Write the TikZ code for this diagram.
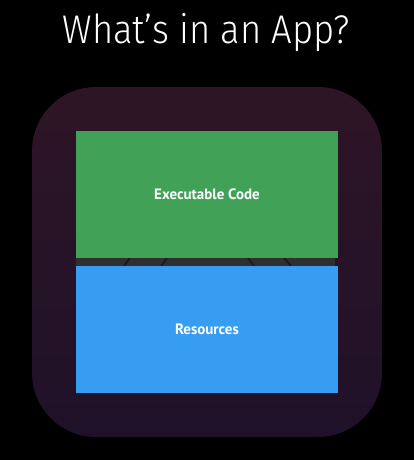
\documentclass[tikz,border=0pt]{standalone}
\usepackage{fontspec}
\setmainfont{PT Sans}
\newfontfamily\titlefont{Fira Sans Light}
\definecolor{icontop}{RGB}{46,21,38}
\definecolor{iconbot}{RGB}{31,17,41}
\definecolor{codegreen}{RGB}{65,162,87}
\definecolor{resblue}{RGB}{54,157,243}
\definecolor{seamgray}{RGB}{47,47,47}
\definecolor{seamline}{RGB}{40,18,40}
\begin{document}
\begin{tikzpicture}[x=1pt,y=-1pt,
  block/.style={minimum width=262pt,minimum height=127pt,inner sep=0pt,
    text=white,font=\bfseries\fontsize{15}{18}\selectfont},
  seam/.style={seamline,line width=2pt}]
% canvas
\fill[black] (0,0) rectangle (414,460);
% app icon outline
\shade[top color=icontop,bottom color=iconbot,rounded corners=64pt]
  (32,87) rectangle (382,437);
% seam between the two parts
\fill[seamgray] (76,258) rectangle (335,266);
\coordinate (s1a) at (124,266); \coordinate (s1b) at (130,258);
\coordinate (s2a) at (161,266); \coordinate (s2b) at (167,258);
\coordinate (s3a) at (248,258); \coordinate (s3b) at (254,266);
\coordinate (s4a) at (284,258); \coordinate (s4b) at (291,266);
\draw[seam] (s1a) -- (s1b);
\draw[seam] (s2a) -- (s2b);
\draw[seam] (s3a) -- (s3b);
\draw[seam] (s4a) -- (s4b);
% contents
\node[block,fill=codegreen] (code) at (207,194.5) {Executable Code};
\node[block,fill=resblue] (res) at (207,329.5) {Resources};
% heading
\node[text=white,font=\titlefont\fontsize{40}{48}\selectfont] (title) at (206,33)
  {\scalebox{0.91}[1]{What’s in an App?}};
\end{tikzpicture}
\end{document}
